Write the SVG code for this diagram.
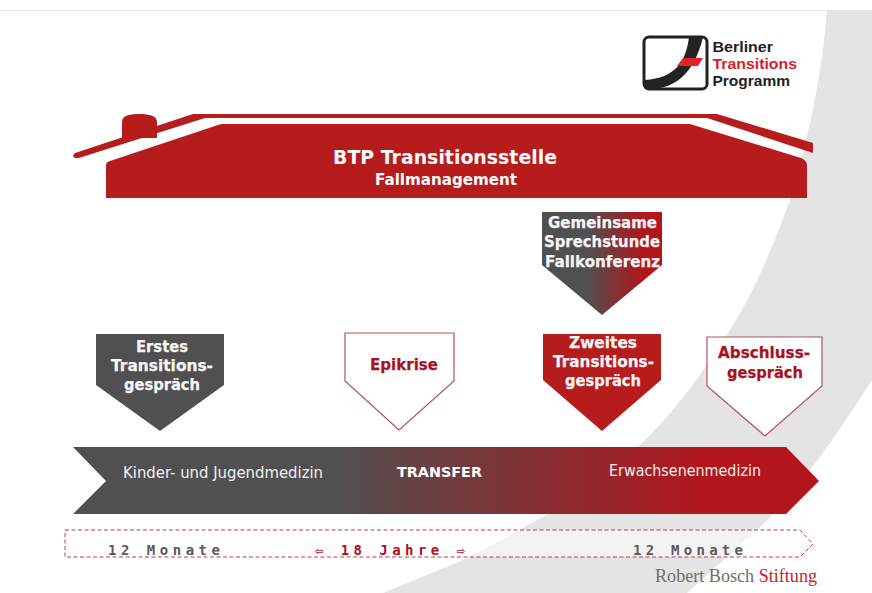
<svg xmlns="http://www.w3.org/2000/svg" width="872" height="593" viewBox="0 0 872 593">
<style>
text{font-family:"DejaVu Sans","Liberation Sans",sans-serif}
.h{font-weight:700;font-size:16.500px;fill:#f6f6f6;stroke:#f6f6f6;stroke-width:.25}
.r{font-weight:700;font-size:16.500px;fill:#a8121f;stroke:#a8121f;stroke-width:.25}
.o{fill:#fff;stroke:#b5505c;stroke-width:1.2}
.b{font-size:15px;fill:#f0f0f0}
.m{font-family:"DejaVu Sans Mono","Liberation Mono",monospace;font-weight:700;font-size:14px;fill:#5a5a5a}
.l{font-family:"Liberation Sans",sans-serif;font-weight:700;font-size:15.500px;fill:#222}
.s{font-family:"Liberation Serif",serif;font-size:18px}
</style>
<defs>
<linearGradient id="gb" gradientUnits="userSpaceOnUse" x1="73" y1="0" x2="819" y2="0"><stop offset="0.34" stop-color="#505050"/><stop offset="0.85" stop-color="#b2151b"/></linearGradient>
<linearGradient id="gp" gradientUnits="userSpaceOnUse" x1="542" y1="0" x2="662" y2="0"><stop offset="0.38" stop-color="#505050"/><stop offset="0.85" stop-color="#b2151b"/></linearGradient>
</defs>
<rect width="872" height="593" fill="#fff"/>
<path id="swoosh" d="M827 10C822 70 812 125 790 200C770 255 752 295 730 330C700 377 672 415 640 445C590 495 520 530 463 560L383 593H687L760 527C800 490 840 430 872 380V10Z" fill="#e4e4e5"/>
<rect x="0" y="10" width="872" height="1" fill="#e6e6e6"/>
<g id="logo">
<rect x="644" y="37" width="63" height="52" rx="5" fill="#fff" stroke="#222" stroke-width="3"/>
<path d="M689 37C686 62 675 78 645 80V88H660C685 83 697 62 703 37Z" fill="#222"/>
<path d="M683 58H703L698 66H677Z" fill="#e0202a"/>
<text class="l" x="712.500" y="52" textLength="60.500" lengthAdjust="spacingAndGlyphs">Berliner</text>
<text class="l" x="712.500" y="69" textLength="84.500" lengthAdjust="spacingAndGlyphs" style="fill:#d81e28">Transitions</text>
<text class="l" x="712.500" y="86" textLength="77.500" lengthAdjust="spacingAndGlyphs">Programm</text>
</g>
<g id="house">
<path d="M122 138V122C122 116 128 114 139 114C150 114 157 116 157 122V138Z" fill="#b71c1c"/>
<path d="M193 114H717L813 143V153L707 118H205L82 157C74 160 71 156 75 153Z" fill="#b71c1c"/>
<path d="M106 198V166C106 163 107 162 110 161L218 125C220 124 222 124 224 124H690L801 158C805 160 807 162 807 166V198Z" fill="#b71c1c"/>
<text x="445" y="164" text-anchor="middle" font-size="19.500" font-weight="700" fill="#fff" textLength="224" lengthAdjust="spacingAndGlyphs">BTP Transitionsstelle</text>
<text x="446" y="185" text-anchor="middle" font-size="15" font-weight="700" fill="#fff" textLength="142" lengthAdjust="spacingAndGlyphs">Fallmanagement</text>
</g>
<g id="gemeinsame">
<path d="M542 212H662V265L602 315L542 265Z" fill="url(#gp)"/>
<text class="h" x="602.500" y="228" text-anchor="middle" textLength="109" lengthAdjust="spacingAndGlyphs">Gemeinsame</text>
<text class="h" x="602" y="247" text-anchor="middle" textLength="116" lengthAdjust="spacingAndGlyphs">Sprechstunde</text>
<text class="h" x="602.500" y="267" text-anchor="middle" textLength="115" lengthAdjust="spacingAndGlyphs">Fallkonferenz</text>
</g>
<g id="erstes">
<path d="M96 334H224V385L160 431L96 385Z" fill="#505050"/>
<text class="h" x="162" y="352" text-anchor="middle" textLength="52" lengthAdjust="spacingAndGlyphs">Erstes</text>
<text class="h" x="162" y="371" text-anchor="middle" textLength="102" lengthAdjust="spacingAndGlyphs">Transitions-</text>
<text class="h" x="162" y="390" text-anchor="middle" textLength="76" lengthAdjust="spacingAndGlyphs">gespräch</text>
</g>
<g id="epikrise">
<path class="o" d="M345 333H454V381L399 430L345 381Z"/>
<text class="r" x="404" y="370" text-anchor="middle" textLength="68" lengthAdjust="spacingAndGlyphs">Epikrise</text>
</g>
<g id="zweites">
<path d="M543 334H661V380L602 431L543 380Z" fill="#b71c1c"/>
<text class="h" x="603" y="348" text-anchor="middle" textLength="68" lengthAdjust="spacingAndGlyphs">Zweites</text>
<text class="h" x="603.500" y="367" text-anchor="middle" textLength="101" lengthAdjust="spacingAndGlyphs">Transitions-</text>
<text class="h" x="603" y="386" text-anchor="middle" textLength="76" lengthAdjust="spacingAndGlyphs">gespräch</text>
</g>
<g id="abschluss">
<path class="o" d="M707 337H822V386L765 436L707 386Z"/>
<text class="r" x="764" y="358" text-anchor="middle" textLength="92" lengthAdjust="spacingAndGlyphs">Abschluss-</text>
<text class="r" x="765" y="378" text-anchor="middle" textLength="76" lengthAdjust="spacingAndGlyphs">gespräch</text>
</g>
<g id="band">
<path d="M73 447H786L819 481L786 514H73L106 481Z" fill="url(#gb)"/>
<text class="b" x="123" y="478" textLength="200" lengthAdjust="spacingAndGlyphs">Kinder- und Jugendmedizin</text>
<text x="397" y="477" font-size="14.500" font-weight="700" fill="#fff" textLength="85" lengthAdjust="spacingAndGlyphs">TRANSFER</text>
<text class="b" x="609" y="476" textLength="152" lengthAdjust="spacingAndGlyphs">Erwachsenenmedizin</text>
</g>
<g id="timeline">
<path d="M65 530H800L813 544L800 557H65Z" fill="#fff" fill-opacity="0.55" stroke="#b5404c" stroke-width="1" stroke-dasharray="4 2.500"/>
<text class="m" x="108" y="555" textLength="112">12 Monate</text>
<text class="m" x="315" y="555" textLength="150" style="fill:#a8121f">⇦ 18 Jahre ⇨</text>
<text class="m" x="633" y="555" textLength="110">12 Monate</text>
</g>
<g id="bosch">
<text class="s" x="655" y="582" textLength="162" lengthAdjust="spacingAndGlyphs" fill="#6e6e6e">Robert Bosch <tspan fill="#c8202f">Stiftung</tspan></text>
</g>
</svg>
